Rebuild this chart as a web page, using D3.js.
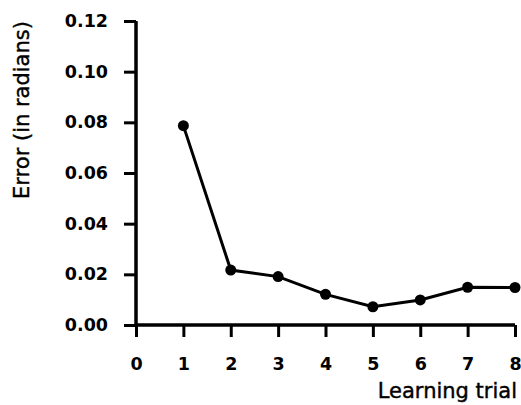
<!DOCTYPE html>
<html><head><meta charset="utf-8">
<script src="https://cdn.jsdelivr.net/npm/d3@7"></script>
<style>body{margin:0;background:#fff}svg{display:block}</style>
</head><body>
<script>
const trials = [1, 2, 3, 4, 5, 6, 7, 8];
const errors = [0.0787, 0.0217, 0.0191, 0.0121, 0.0072, 0.0099, 0.0149, 0.0148];
const xTicks = [0, 1, 2, 3, 4, 5, 6, 7, 8];
const yTicks = [0.00, 0.02, 0.04, 0.06, 0.08, 0.10, 0.12];

const W = 521, H = 405;
const svg = d3.select("body").append("svg").attr("width", W).attr("height", H);
const x = d3.scaleLinear().domain([0, 8]).range([136, 515]);
const y = d3.scaleLinear().domain([0, 0.12]).range([325, 21]);
const font = "'DejaVu Sans', sans-serif";

const xAxis = svg.append("g").attr("transform", "translate(0,325)")
  .call(d3.axisBottom(x).tickValues(xTicks).tickFormat(d3.format("d")).tickSize(12).tickPadding(21));
const yAxis = svg.append("g").attr("transform", "translate(136,0)")
  .call(d3.axisLeft(y).tickValues(yTicks).tickFormat(d3.format(".2f")).tickSize(12).tickPadding(16));
[xAxis, yAxis].forEach(g => {
  g.select(".domain").remove();
  g.selectAll(".tick line").attr("stroke", "#000").attr("stroke-width", 3);
  g.selectAll(".tick text").attr("fill", "#000").attr("font-family", font)
    .attr("font-weight", "bold").attr("font-size", 17.5);
});
// axis lines
svg.append("line").attr("x1", x(0)).attr("x2", x(8)).attr("y1", y(0)).attr("y2", y(0))
  .attr("stroke", "#000").attr("stroke-width", 3.5);
svg.append("line").attr("x1", x(0)).attr("x2", x(0)).attr("y1", y(0)).attr("y2", y(0.12))
  .attr("stroke", "#000").attr("stroke-width", 3.5);

const data = trials.map((t, i) => ({t, e: errors[i]}));
svg.append("path").datum(data)
  .attr("d", d3.line().x(d => x(d.t)).y(d => y(d.e)))
  .attr("fill", "none").attr("stroke", "#000").attr("stroke-width", 3);
svg.selectAll("circle.pt").data(data).enter().append("circle")
  .attr("cx", d => x(d.t)).attr("cy", d => y(d.e)).attr("r", 5.5).attr("fill", "#000");

svg.append("text").attr("transform", "translate(23,110) rotate(-90)")
  .attr("text-anchor", "middle").attr("dominant-baseline", "middle")
  .attr("font-family", font).attr("font-size", 21).attr("font-weight", "normal")
  .attr("stroke", "#000").attr("stroke-width", 0.4).text("Error (in radians)");
svg.append("text").attr("x", 517).attr("y", 398).attr("text-anchor", "end")
  .attr("font-family", font).attr("font-size", 21).attr("font-weight", "normal")
  .attr("stroke", "#000").attr("stroke-width", 0.4).text("Learning trial");
</script>
</body></html>
